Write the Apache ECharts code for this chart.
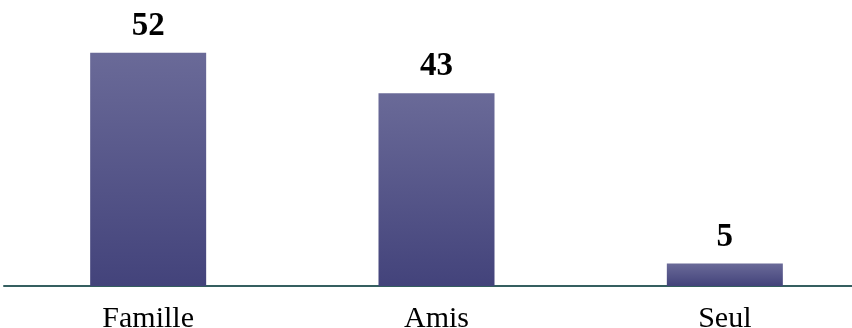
<!DOCTYPE html>
<html><head><meta charset="utf-8">
<script src="https://cdn.jsdelivr.net/npm/echarts@6/dist/echarts.min.js"></script>
<style>html,body{margin:0;padding:0;background:#fff;overflow:hidden}#c{width:852px;height:328px}</style>
</head><body><div id="c"></div>
<script>
const categories = ["Famille", "Amis", "Seul"];
const values = [52, 43, 5];

const chart = echarts.init(document.getElementById('c'), null, {renderer: 'canvas'});
chart.setOption({
  animation: false,
  grid: {left: 4, width: 865, top: 17, bottom: 42, containLabel: false, outerBoundsMode: 'none'},
  xAxis: {
    type: 'category',
    data: categories,
    axisLine: {show: true, lineStyle: {color: '#355f60', width: 2}},
    axisTick: {show: false},
    axisLabel: {
      color: '#000',
      fontFamily: '"Liberation Serif", "Times New Roman", serif',
      fontSize: 30,
      margin: 18
    }
  },
  yAxis: {
    type: 'value', min: 0, max: 60,
    show: false,
    splitLine: {show: false}
  },
  series: [{
    type: 'bar',
    data: values,
    barWidth: 116,
    itemStyle: {
      color: new echarts.graphic.LinearGradient(0, 0, 0, 1, [
        {offset: 0, color: '#6a6a98'},
        {offset: 1, color: '#43437b'}
      ])
    },
    label: {
      show: true,
      position: 'top',
      distance: 10,
      color: '#000',
      fontWeight: 'bold',
      fontFamily: '"Liberation Serif", "Times New Roman", serif',
      fontSize: 33
    }
  }]
});
</script></body></html>
